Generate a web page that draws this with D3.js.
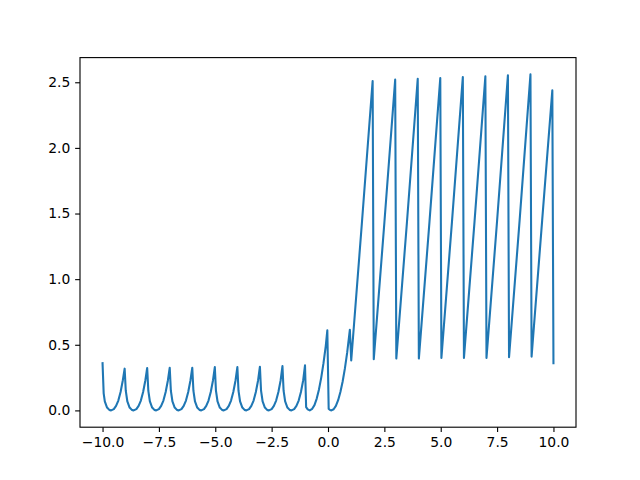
<!DOCTYPE html>
<html><head><meta charset="utf-8">
<script src="https://cdn.jsdelivr.net/npm/d3@7"></script>
<style>body{margin:0;background:#fff}</style>
</head><body><svg id="c" width="640" height="480"></svg>
<script>
const xValues = [
  -10, -9.95, -9.9, -9.8, -9.7, -9.62, -9.5, -9.4, -9.3, -9.2, -9.1, -9.02,
  -8.97, -8.9, -8.8, -8.7, -8.62, -8.5, -8.4, -8.3, -8.2, -8.1, -8.02,
  -7.97, -7.9, -7.8, -7.7, -7.62, -7.5, -7.4, -7.3, -7.2, -7.1, -7.02,
  -6.97, -6.9, -6.8, -6.7, -6.62, -6.5, -6.4, -6.3, -6.2, -6.1, -6.02,
  -5.97, -5.9, -5.8, -5.7, -5.62, -5.5, -5.4, -5.3, -5.2, -5.1, -5.02,
  -4.97, -4.9, -4.8, -4.7, -4.62, -4.5, -4.4, -4.3, -4.2, -4.1, -4.02,
  -3.97, -3.9, -3.8, -3.7, -3.62, -3.5, -3.4, -3.3, -3.2, -3.1, -3.02,
  -2.97, -2.9, -2.8, -2.7, -2.62, -2.5, -2.4, -2.3, -2.2, -2.1, -2.02,
  -1.97, -1.9, -1.8, -1.7, -1.62, -1.5, -1.4, -1.3, -1.2, -1.1, -1.02,
  -0.97, -0.9, -0.81, -0.7, -0.6, -0.5, -0.4, -0.3, -0.2, -0.1, -0.03,
  0.03, 0.08, 0.15, 0.25, 0.35, 0.45, 0.55, 0.65, 0.75, 0.85, 0.97,
  1.03, 1.5, 1.98,
  2.03, 2.5, 2.98,
  3.03, 3.5, 3.98,
  4.03, 4.5, 4.98,
  5.03, 5.5, 5.98,
  6.03, 6.5, 6.98,
  7.03, 7.5, 7.98,
  8.03, 8.5, 8.98,
  9.03, 9.5, 9.95, 10
];
const yValues = [
  0.36, 0.13, 0.068, 0.022, 0.004, 0, 0.01, 0.035, 0.075, 0.14, 0.23, 0.318,
  0.15, 0.068, 0.022, 0.004, 0, 0.01, 0.035, 0.075, 0.14, 0.23, 0.323,
  0.15, 0.068, 0.022, 0.004, 0, 0.01, 0.035, 0.075, 0.14, 0.23, 0.325,
  0.15, 0.068, 0.022, 0.004, 0, 0.01, 0.035, 0.075, 0.14, 0.23, 0.325,
  0.15, 0.068, 0.022, 0.004, 0, 0.01, 0.035, 0.075, 0.14, 0.23, 0.33,
  0.15, 0.068, 0.022, 0.004, 0, 0.01, 0.035, 0.075, 0.14, 0.23, 0.33,
  0.15, 0.068, 0.022, 0.004, 0, 0.01, 0.035, 0.075, 0.14, 0.23, 0.333,
  0.15, 0.068, 0.022, 0.004, 0, 0.01, 0.035, 0.075, 0.14, 0.23, 0.338,
  0.15, 0.068, 0.022, 0.004, 0, 0.01, 0.035, 0.075, 0.14, 0.23, 0.343,
  0.025, 0.008, 0, 0.012, 0.04, 0.09, 0.16, 0.25, 0.36, 0.49, 0.61,
  0.013, 0.004, 0, 0.009, 0.035, 0.078, 0.14, 0.22, 0.32, 0.44, 0.615,
  0.38, 1.42, 2.51,
  0.39, 1.43, 2.52,
  0.395, 1.43, 2.527,
  0.395, 1.435, 2.532,
  0.40, 1.44, 2.54,
  0.40, 1.44, 2.545,
  0.40, 1.445, 2.553,
  0.405, 1.45, 2.56,
  0.41, 1.45, 2.438, 0.36
];
const xTicks = [-10, -7.5, -5, -2.5, 0, 2.5, 5, 7.5, 10];
const yTicks = [0, 0.5, 1, 1.5, 2, 2.5];

const L = 80, R = 576, T = 57.6, B = 427.2;
const pt = 100 / 72;
const svg = d3.select("#c");

const [x0, x1] = d3.extent(xValues);
const [y0, y1] = d3.extent(yValues);
const x = d3.scaleLinear().domain([x0 - 0.05 * (x1 - x0), x1 + 0.05 * (x1 - x0)]).range([L, R]);
const y = d3.scaleLinear().domain([y0 - 0.05 * (y1 - y0), y1 + 0.05 * (y1 - y0)]).range([B, T]);

const fmt = d3.format(".1f");
const fontSize = 10 * pt;

const line = d3.line().x((d, i) => x(xValues[i])).y((d, i) => y(yValues[i]));
svg.append("path")
  .attr("d", line(yValues))
  .attr("fill", "none")
  .attr("stroke", "#1f77b4")
  .attr("stroke-width", 1.5 * pt)
  .attr("stroke-linejoin", "round")
  .attr("stroke-linecap", "square");

const xAxis = svg.append("g").attr("transform", `translate(0,${B})`)
  .call(d3.axisBottom(x).tickValues(xTicks).tickFormat(fmt).tickSize(3.5 * pt).tickPadding(3.5 * pt));
const yAxis = svg.append("g").attr("transform", `translate(${L},0)`)
  .call(d3.axisLeft(y).tickValues(yTicks).tickFormat(fmt).tickSize(3.5 * pt).tickPadding(3.5 * pt));
for (const g of [xAxis, yAxis]) {
  g.select(".domain").remove();
  g.selectAll(".tick line").attr("stroke", "#000").attr("stroke-width", 0.8 * pt);
  g.selectAll(".tick text").attr("fill", "#000")
    .style("font-family", "'DejaVu Sans', sans-serif").style("font-size", fontSize + "px");
}

svg.append("rect")
  .attr("x", L).attr("y", T).attr("width", R - L).attr("height", B - T)
  .attr("fill", "none").attr("stroke", "#000").attr("stroke-width", 0.8 * pt);
</script>
</body></html>
